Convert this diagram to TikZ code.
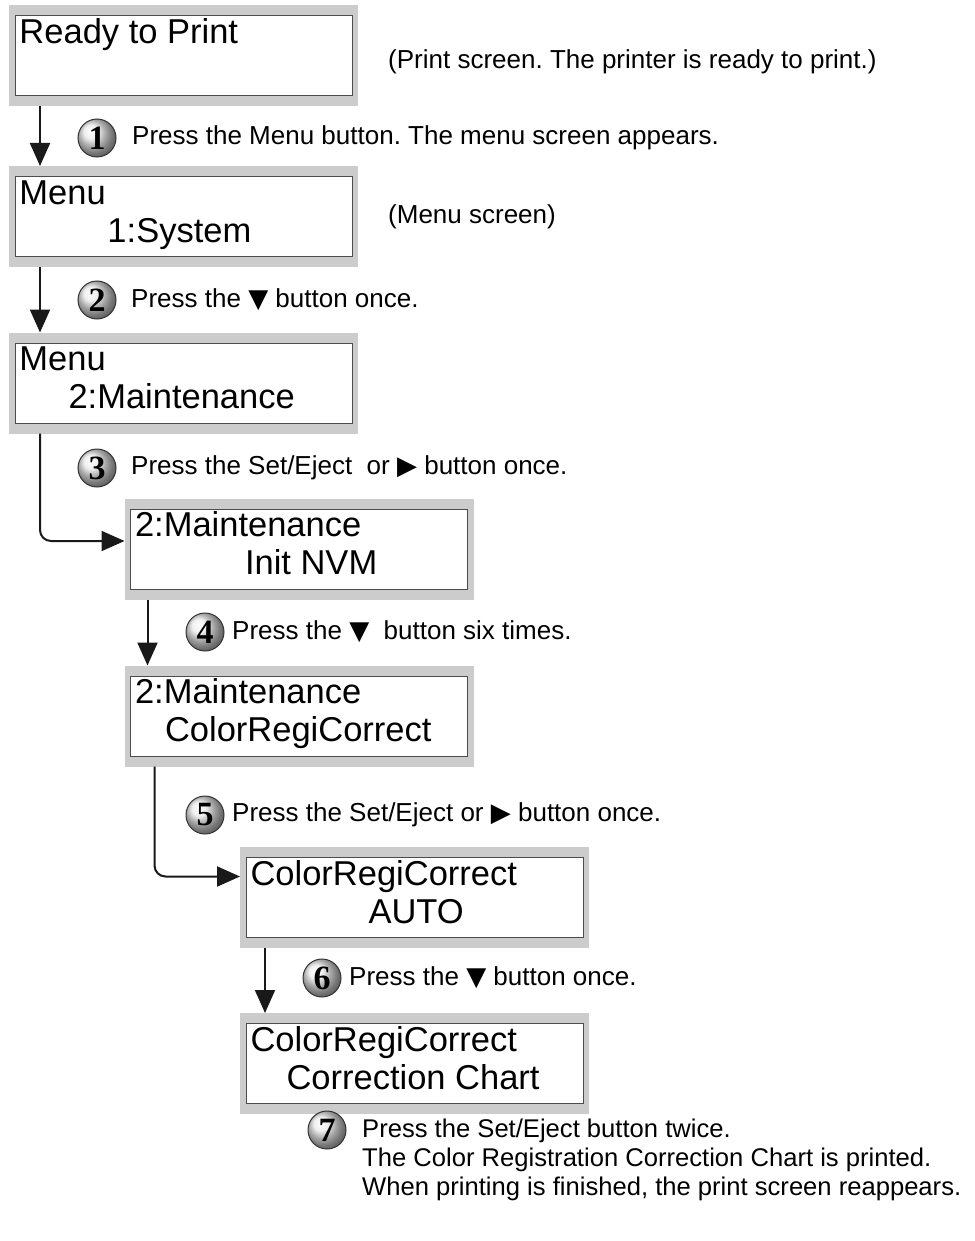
\documentclass[tikz,border=0pt]{standalone}
\usepackage{fontspec}
\setmainfont{Liberation Sans}
\newfontfamily\symfont{DejaVu Sans}
\newfontfamily\digitfont{Liberation Serif}
\usetikzlibrary{arrows.meta,shadings}
\frenchspacing

% two-line display text, second line indented by #2
\newcommand{\lcd}[3]{\parbox[c][78pt][t]{328pt}{\strut#1\par\hspace*{#2}\strut#3}}
\newcommand{\dn}{{\symfont\char"25BC}}
\newcommand{\rt}{{\symfont\char"25B6}}

\tikzset{
  screen/.style={fill=black!20, minimum width=349pt, minimum height=101pt,
    inner sep=0pt, outer sep=0pt,
    font=\fontsize{34.5}{38}\selectfont,
    path picture={\draw[fill=white, draw=black!70, line width=0.8pt]
      ([shift={(6pt,-10.5pt)}]path picture bounding box.north west) rectangle
      ([shift={(-6pt,10.5pt)}]path picture bounding box.south east);}},
  badge/.style={circle, minimum size=38pt, inner sep=0pt, draw=black!80,
    line width=1pt, shading=ball, ball color=black!8,
    font=\digitfont\bfseries\fontsize{34}{34}\selectfont},
  steptext/.style={anchor=west, inner sep=0pt, font=\fontsize{26}{29}\selectfont},
  note/.style={anchor=west, inner sep=0pt, font=\fontsize{26}{29}\selectfont},
  flow/.style={draw=black!90, line width=2pt, rounded corners=11pt,
    -{Triangle[width=20pt,length=23pt]}}
}

\begin{document}
\begin{tikzpicture}[x=1pt,y=-1pt]
  \useasboundingbox (0,0) rectangle (974,1241);
  % display screens
  \node[screen] (s1) at (183.5,55.5) {\lcd{Ready to Print}{0pt}{}};
  \node[screen] (s2) at (183.5,216.5) {\lcd{Menu}{88pt}{1:System}};
  \node[screen] (s3) at (183.5,383) {\lcd{Menu}{49pt}{2:Maintenance}};
  \node[screen] (s4) at (299,549) {\lcd{2:Maintenance}{110pt}{Init NVM}};
  \node[screen] (s5) at (299,716) {\lcd{2:Maintenance}{30pt}{ColorRegiCorrect}};
  \node[screen] (s6) at (414.5,897.5) {\lcd{ColorRegiCorrect}{118pt}{AUTO}};
  \node[screen] (s7) at (414.5,1063.5) {\lcd{ColorRegiCorrect}{36pt}{Correction Chart}};
  % remarks
  \node[note] (n1) at (388,62) {(Print screen. The printer is ready to print.)};
  \node[note] (n2) at (388,217) {(Menu screen)};
  % steps
  \node[badge] (b1) at (97,138) {1};
  \node[badge] (b2) at (97,300) {2};
  \node[badge] (b3) at (97,468) {3};
  \node[badge] (b4) at (205,632) {4};
  \node[badge] (b5) at (205,815) {5};
  \node[badge] (b6) at (322,978) {6};
  \node[badge] (b7) at (327,1130) {7};
  \node[steptext] (t1) at (132,138) {Press the Menu button. The menu screen appears.};
  \node[steptext] (t2) at (131,300) {Press the \dn{} button once.};
  \node[steptext] (t3) at (131,468) {Press the Set/Eject\ \ or \rt{} button once.};
  \node[steptext] (t4) at (232,632) {Press the \dn\ \ button six times.};
  \node[steptext] (t5) at (232,815) {Press the Set/Eject or \rt{} button once.};
  \node[steptext] (t6) at (349,978) {Press the \dn{} button once.};
  \node[steptext, align=left, font=\fontsize{25.6}{29}\selectfont] (t7) at (362,1160)
    {Press the Set/Eject button twice.\\
    The Color Registration Correction Chart is printed.\\
    When printing is finished, the print screen reappears.};
  % connectors
  \draw[flow] ([xshift=31pt]s1.south west) -- ([xshift=31pt]s2.north west);
  \draw[flow] ([xshift=31pt]s2.south west) -- ([xshift=31pt]s3.north west);
  \draw[flow] ([xshift=31pt]s3.south west) |- ([yshift=8pt]s4.west);
  \draw[flow] ([xshift=23pt]s4.south west) -- ([xshift=23pt]s5.north west);
  \draw[flow] ([xshift=30pt]s5.south west) |- ([yshift=21pt]s6.west);
  \draw[flow] ([xshift=25pt]s6.south west) -- ([xshift=25pt]s7.north west);
\end{tikzpicture}
\end{document}
